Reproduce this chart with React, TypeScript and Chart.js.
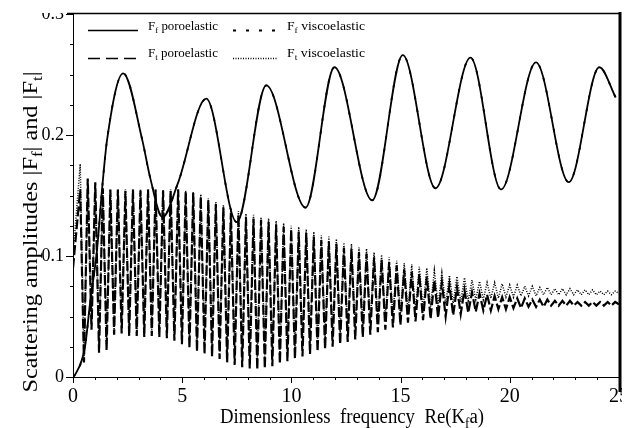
import React, { useEffect, useRef } from 'react';
import { Chart, registerables } from 'chart.js';

Chart.register(...registerables);

const W = 627;
const H = 428;

// ---- F_f : slowly oscillating form-function amplitude (read at extrema / knees)
const ffX = [0, 0.1, 0.55, 0.78, 1.1, 1.33, 1.56, 2.3, 3.17, 3.53, 4.1, 4.8, 6.1, 7.5, 8.85, 10.65, 11.97, 13.7, 15.1, 16.6, 18.2, 19.6, 21.2, 22.7, 24.1, 24.85];
const ffPoro = [0, 0.002, 0.025, 0.061, 0.105, 0.155, 0.196, 0.251, 0.196, 0.165, 0.132, 0.16, 0.23, 0.128, 0.241, 0.14, 0.256, 0.146, 0.266, 0.156, 0.264, 0.155, 0.26, 0.161, 0.256, 0.231];
const ffVisco = [0, 0.002, 0.025, 0.061, 0.105, 0.155, 0.196, 0.251, 0.196, 0.165, 0.132, 0.16, 0.23, 0.128, 0.241, 0.14, 0.256, 0.146, 0.266, 0.156, 0.264, 0.155, 0.26, 0.161, 0.256, 0.231];

// ---- F_t : rapidly oscillating amplitude, one peak and one trough per oscillation
const ftFirstPeak = 0.33;
const ftPeriod = 0.345;
const ftEndX = 25;
const ftPoroStart = 0.09;
const ftPoroEnd = 0.06;
const ftViscoStart = 0.1;
const ftViscoEnd = 0.069;

const ftPoroPeaks = [
  0.155, 0.164, 0.161, 0.156, 0.155, 0.155, 0.154, 0.155, 0.154, 0.155,
  0.155, 0.154, 0.154, 0.155, 0.153, 0.152, 0.149, 0.146, 0.143, 0.14,
  0.136, 0.134, 0.132, 0.131, 0.13, 0.128, 0.126, 0.124, 0.122, 0.12,
  0.119, 0.116, 0.113, 0.112, 0.11, 0.107, 0.106, 0.103, 0.102, 0.099,
  0.097, 0.095, 0.092, 0.089, 0.087, 0.085, 0.083, 0.08, 0.078, 0.076,
  0.074, 0.072, 0.07, 0.069, 0.068, 0.067, 0.066, 0.066, 0.065, 0.065,
  0.064, 0.064, 0.064, 0.063, 0.063, 0.063, 0.062, 0.062, 0.062, 0.062,
  0.062, 0.062,
];
const ftPoroTroughs = [
  0.012, 0.039, 0.02, 0.022, 0.035, 0.036, 0.034, 0.034, 0.033, 0.034,
  0.033, 0.032, 0.03, 0.027, 0.024, 0.021, 0.019, 0.017, 0.015, 0.012,
  0.01, 0.008, 0.007, 0.006, 0.007, 0.009, 0.011, 0.013, 0.015, 0.017,
  0.019, 0.021, 0.023, 0.025, 0.027, 0.029, 0.031, 0.033, 0.035, 0.037,
  0.039, 0.041, 0.043, 0.045, 0.046, 0.047, 0.048, 0.049, 0.05, 0.051,
  0.052, 0.053, 0.054, 0.055, 0.055, 0.056, 0.056, 0.057, 0.057, 0.058,
  0.058, 0.058, 0.059, 0.059, 0.059, 0.059, 0.059, 0.059, 0.059, 0.059,
  0.059,
];
const ftViscoPeaks = [
  0.176, 0.16, 0.158, 0.156, 0.155, 0.155, 0.155, 0.155, 0.155, 0.155,
  0.155, 0.155, 0.155, 0.155, 0.154, 0.153, 0.151, 0.148, 0.145, 0.142,
  0.139, 0.137, 0.135, 0.134, 0.132, 0.131, 0.129, 0.127, 0.125, 0.124,
  0.122, 0.12, 0.117, 0.116, 0.114, 0.111, 0.11, 0.107, 0.106, 0.103,
  0.101, 0.099, 0.096, 0.094, 0.093, 0.091, 0.09, 0.088, 0.086, 0.084,
  0.083, 0.082, 0.08, 0.079, 0.078, 0.078, 0.077, 0.076, 0.076, 0.075,
  0.075, 0.074, 0.074, 0.073, 0.073, 0.073, 0.072, 0.072, 0.072, 0.071,
  0.071, 0.071,
];
const ftViscoTroughs = [
  0.015, 0.042, 0.025, 0.027, 0.038, 0.04, 0.039, 0.039, 0.038, 0.039,
  0.038, 0.037, 0.035, 0.033, 0.03, 0.028, 0.026, 0.024, 0.022, 0.02,
  0.018, 0.017, 0.016, 0.016, 0.017, 0.018, 0.02, 0.022, 0.024, 0.026,
  0.028, 0.03, 0.032, 0.034, 0.036, 0.038, 0.04, 0.042, 0.044, 0.046,
  0.048, 0.05, 0.052, 0.054, 0.055, 0.056, 0.058, 0.059, 0.06, 0.061,
  0.062, 0.063, 0.064, 0.064, 0.065, 0.065, 0.066, 0.066, 0.067, 0.067,
  0.067, 0.068, 0.068, 0.068, 0.068, 0.068, 0.068, 0.068, 0.068, 0.068,
  0.068,
];

// ---- axes
const xMin = 0;
const xMax = 25;
const xMajorTicks = [0, 5, 10, 15, 20, 25];
const yMin = 0;
const yMax = 0.3;
const yMajorTicks = [0, 0.1, 0.2, 0.3];

const xTitle = [{ t: 'Dimensionless  frequency  Re(K' }, { t: 'f', sub: true }, { t: 'a)' }];
const yTitle = [
  { t: 'Scattering amplitudes |F' }, { t: 'f', sub: true }, { t: '| and |F' }, { t: 't', sub: true }, { t: '|' },
];
const legendItems = [
  { sub: 'f', name: ' poroelastic', dash: [], row: 0, col: 0 },
  { sub: 'f', name: ' viscoelastic', dash: [3, 10], row: 0, col: 1 },
  { sub: 't', name: ' poroelastic', dash: [12, 6], row: 1, col: 0 },
  { sub: 't', name: ' viscoelastic', dash: [1, 1.5], row: 1, col: 1 },
];

const FONT = 'Liberation Serif';

function buildFt(peaks: number[], troughs: number[], start: number, end: number) {
  const pts: { x: number; y: number }[] = [{ x: 0, y: start }];
  for (let i = 0; i < peaks.length; i++) {
    pts.push({ x: ftFirstPeak + i * ftPeriod, y: peaks[i] });
    if (i < troughs.length) pts.push({ x: ftFirstPeak + (i + 0.5) * ftPeriod, y: troughs[i] });
  }
  pts.push({ x: ftEndX, y: end });
  return pts;
}

type Seg = { t: string; sub?: boolean };

function richWidth(ctx: CanvasRenderingContext2D, segs: Seg[], size: number) {
  let w = 0;
  for (const s of segs) {
    ctx.font = `${s.sub ? size * 0.7 : size}px "${FONT}"`;
    w += ctx.measureText(s.t).width;
  }
  return w;
}

function drawRich(
  ctx: CanvasRenderingContext2D,
  segs: Seg[],
  x: number,
  y: number,
  size: number,
  align: 'left' | 'center',
  target?: number
) {
  const w = richWidth(ctx, segs, size);
  const k = target ? target / w : 1;
  ctx.save();
  ctx.translate(x, y);
  ctx.scale(k, 1);
  let cx = align === 'center' ? -w / 2 : 0;
  ctx.textBaseline = 'alphabetic';
  ctx.textAlign = 'left';
  ctx.fillStyle = '#000';
  for (const s of segs) {
    const fs = s.sub ? size * 0.7 : size;
    ctx.font = `${fs}px "${FONT}"`;
    ctx.fillText(s.t, cx, s.sub ? size * 0.25 : 0);
    cx += ctx.measureText(s.t).width;
  }
  ctx.restore();
}

const decor = {
  id: 'decor',
  afterDraw(chart: any) {
    const ctx: CanvasRenderingContext2D = chart.ctx;
    const xs = chart.scales.x;
    const ys = chart.scales.y;
    const { left, right, top, bottom } = chart.chartArea;
    ctx.save();
    // cropped scan edges
    ctx.fillStyle = '#fff';
    ctx.fillRect(0, 0, W, 13);
    ctx.fillRect(622, 0, W - 622, H);

    ctx.strokeStyle = '#000';
    ctx.lineWidth = 1;
    ctx.setLineDash([]);
    ctx.beginPath();
    ctx.moveTo(left + 0.5, top);
    ctx.lineTo(left + 0.5, bottom);
    ctx.moveTo(left, bottom + 0.5);
    ctx.lineTo(right, bottom + 0.5);
    ctx.stroke();
    ctx.lineWidth = 1.5;
    ctx.beginPath();
    ctx.moveTo(left - 6, top - 0.5);
    ctx.lineTo(right, top - 0.5);
    ctx.stroke();
    ctx.lineWidth = 3;
    ctx.beginPath();
    ctx.moveTo(right + 1, top - 2);
    ctx.lineTo(right + 1, bottom + 15);
    ctx.stroke();

    // ticks
    ctx.lineWidth = 1;
    ctx.beginPath();
    for (let v = yMin; v <= yMax + 1e-9; v += 0.025) {
      const major = yMajorTicks.some((m) => Math.abs(m - v) < 1e-6);
      const py = Math.round(ys.getPixelForValue(v)) + 0.5;
      ctx.moveTo(left - (major ? 7 : 3), py);
      ctx.lineTo(left, py);
    }
    for (let v = xMin; v <= xMax + 1e-9; v += 1) {
      const major = xMajorTicks.some((m) => Math.abs(m - v) < 1e-6);
      const px = Math.round(xs.getPixelForValue(v)) + 0.5;
      ctx.moveTo(px, bottom);
      ctx.lineTo(px, bottom + (major ? 6 : 3));
    }
    ctx.stroke();

    // legend
    const rowY = [31, 58];
    const sampleX = [88, 233];
    const sampleW = [50, 44];
    const textX = [148, 287];
    for (const it of legendItems) {
      const y = rowY[it.row] + 0.5;
      ctx.setLineDash(it.dash);
      ctx.lineWidth = it.row === 0 && it.col === 0 ? 1.5 : it.col === 1 && it.row === 0 ? 2 : 1.3;
      ctx.beginPath();
      ctx.moveTo(sampleX[it.col], y - (it.row === 0 ? 1 : 0));
      ctx.lineTo(sampleX[it.col] + sampleW[it.col], y - (it.row === 0 ? 1 : 0));
      ctx.stroke();
      ctx.setLineDash([]);
      drawRich(ctx, [{ t: 'F' }, { t: it.sub, sub: true }, { t: it.name }], textX[it.col], rowY[it.row] - 1, 12.5, 'left', it.col === 0 ? 70 : 78);
    }

    // axis titles
    drawRich(ctx, xTitle, 352, 423, 20, 'center', 264);
    ctx.save();
    ctx.translate(37, 232);
    ctx.rotate(-Math.PI / 2);
    drawRich(ctx, yTitle, 0, 0, 20, 'center', 321);
    ctx.restore();

    ctx.restore();
  },
};

export default function App() {
  const ref = useRef<HTMLCanvasElement | null>(null);
  useEffect(() => {
    if (!ref.current) return;
    const chart = new Chart(ref.current, {
      type: 'line',
      data: {
        datasets: [
          {
            label: 'Ff poroelastic',
            data: ffX.map((x, i) => ({ x, y: ffPoro[i] })),
            borderColor: '#000',
            borderWidth: 1.8,
            cubicInterpolationMode: 'monotone',
            pointRadius: 0,
            fill: false,
          },
          {
            label: 'Ff viscoelastic',
            data: ffX.map((x, i) => ({ x, y: ffVisco[i] })),
            borderColor: '#000',
            borderWidth: 1.8,
            borderDash: [3, 10],
            cubicInterpolationMode: 'monotone',
            pointRadius: 0,
            fill: false,
          },
          {
            label: 'Ft poroelastic',
            data: buildFt(ftPoroPeaks, ftPoroTroughs, ftPoroStart, ftPoroEnd),
            borderColor: '#000',
            borderWidth: 2.2,
            borderDash: [10, 3],
            tension: 0,
            pointRadius: 0,
            fill: false,
          },
          {
            label: 'Ft viscoelastic',
            data: buildFt(ftViscoPeaks, ftViscoTroughs, ftViscoStart, ftViscoEnd),
            borderColor: '#000',
            borderWidth: 1.5,
            borderDash: [1, 1.5],
            tension: 0,
            pointRadius: 0,
            fill: false,
          },
        ],
      },
      options: {
        animation: false,
        responsive: false,
        devicePixelRatio: 1,
        layout: { padding: { top: 14, right: 8, left: 0, bottom: 0 } },
        plugins: { legend: { display: false }, tooltip: { enabled: false } },
        scales: {
          x: {
            type: 'linear',
            min: xMin,
            max: xMax,
            border: { display: false },
            grid: { display: false, drawTicks: false },
            ticks: {
              stepSize: 5,
              autoSkip: false,
              maxRotation: 0,
              padding: 8,
              color: '#000',
              font: { family: FONT, size: 20 },
            },
            afterFit: (s: any) => {
              s.height = H - 377;
              s.paddingLeft = 0;
              s.paddingRight = 0;
            },
          },
          y: {
            type: 'linear',
            min: yMin,
            max: yMax,
            border: { display: false },
            grid: { display: false, drawTicks: false },
            ticks: {
              stepSize: 0.1,
              padding: 9,
              color: '#000',
              font: { family: FONT, size: 18 },
              callback: (v: any) => (Number(v) === 0 ? '0' : Number(v).toFixed(1)),
            },
            afterFit: (s: any) => {
              s.width = 73;
              s.paddingTop = 0;
              s.paddingBottom = 0;
            },
          },
        },
      },
      plugins: [decor],
    } as any);
    return () => chart.destroy();
  }, []);
  return (
    <div style={{ position: 'absolute', left: 0, top: 0, width: W, height: H, background: '#fff' }}>
      <canvas ref={ref} width={W} height={H} style={{ display: 'block' }} />
    </div>
  );
}
